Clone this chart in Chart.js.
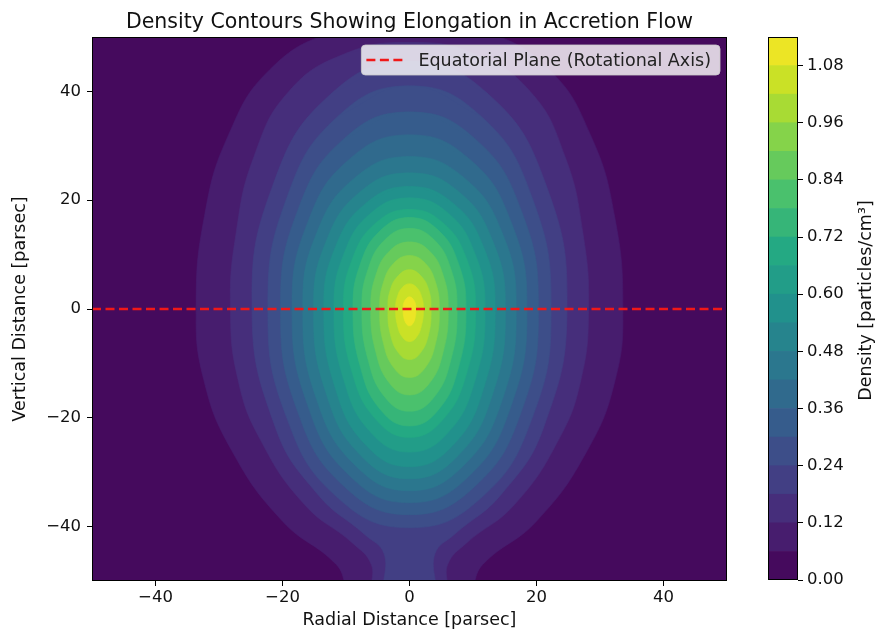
<!DOCTYPE html>
<html lang="en">
<head>
<meta charset="UTF-8">
<title>Density Contours</title>
<script src="https://cdn.jsdelivr.net/npm/chart.js"></script>
<style>
  body{margin:0;background:#fff;}
  #wrap{position:relative;width:877px;height:632px;}
  #main{position:absolute;left:0;top:0;}
  #cbar{position:absolute;left:740px;top:0;}
</style>
</head>
<body>
<div id="wrap">
  <canvas id="main" width="819" height="632"></canvas>
  <canvas id="cbar" width="137" height="632"></canvas>
</div>
<script>
// contour level edges (particles/cm^3)
const levels = [0, 0.06, 0.12, 0.18, 0.24, 0.30, 0.36, 0.42, 0.48, 0.54, 0.60,
                0.66, 0.72, 0.78, 0.84, 0.90, 0.96, 1.02, 1.08, 1.14];
const xTicks = [-40, -20, 0, 20, 40];
const yTicks = [-40, -20, 0, 20, 40];
const cbTicks = [0, 0.12, 0.24, 0.36, 0.48, 0.60, 0.72, 0.84, 0.96, 1.08];

// right half of each contour line [x, y] in parsec, from top to bottom
const c006 = [[0,53.5],[12,51],[22,44],[28.5,32],[32.3,17],[33.6,0],[32.4,-13],[28,-26],[20,-39],[11.5,-47],[8.5,-53]];
const c012 = [[0,49],[10,47],[19,40],[24.5,28],[27.3,14],[28.2,0],[27,-13],[23.5,-24],[16.5,-36],[9,-43],[6,-47],[5.5,-53]];
const c018 = [[0,45.5],[12.4,39.5],[21.5,22.8],[24.8,0],[21.2,-21.5],[14.5,-34],[7,-41.5],[4,-45],[3.5,-53]];
const c024 = [[0,41],[11.2,35.5],[19.3,20.5],[22.3,0],[19.3,-20.1],[11.2,-34.8],[0,-40.2]];
const c030 = [[0,36.2],[10.2,31.4],[17.6,18.1],[20.3,0],[17.6,-18.9],[10.2,-32.7],[0,-37.8]];
const c036 = [[0,32],[9.3,27.7],[16,16],[18.5,0],[16,-17.8],[9.3,-30.8],[0,-35.6]];
const c042 = [[0,28],[8.4,24.3],[14.6,14],[16.8,0],[14.6,-16.7],[8.4,-28.9],[0,-33.4]];
const c048 = [[0,25],[7.6,21.7],[13.1,12.5],[15.1,0],[13.1,-15.6],[7.6,-27],[0,-31.2]];
const c054 = [[0,22.5],[6.8,19.5],[11.7,11.3],[13.5,0],[11.7,-14.5],[6.8,-25.1],[0,-29]];
const c060 = [[0,20.4],[6,17.7],[10.3,10.2],[11.9,0],[10.3,-13.2],[6,-22.8],[0,-26.3]];
const c066 = [[0,18.3],[5.2,15.9],[9,9.2],[10.4,0],[9,-11.8],[5.2,-20.4],[0,-23.6]];
const c072 = [[0,16.8],[4.5,14.5],[7.7,8.4],[8.9,0],[7.7,-10.8],[4.5,-18.6],[0,-21.5]];
const c078 = [[0,14.8],[3.8,12.8],[6.5,7.4],[7.5,0],[6.5,-9.4],[3.8,-16.3],[0,-18.8]];
const c084 = [[0,12.3],[3.1,10.7],[5.3,6.2],[6.1,0],[5.3,-7.9],[3.1,-13.7],[0,-15.8]];
const c090 = [[0,9.8],[2.4,8.5],[4.1,4.9],[4.7,0],[4.1,-6.3],[2.4,-10.9],[0,-12.6]];
const c096 = [[0,7.2],[1.7,6.2],[3,3.6],[3.4,0],[3,-4.7],[1.7,-8.1],[0,-9.3]];
const c102 = [[0,4.6],[1.1,4],[1.9,2.3],[2.2,0],[1.9,-3],[1.1,-5.2],[0,-6]];
const c108 = [[0,2.2],[0.5,1.9],[0.9,1.1],[1,0],[0.9,-1.55],[0.5,-2.7],[0,-3.1]];
const contours = [c006, c012, c018, c024, c030, c036, c042, c048, c054,
                  c060, c066, c072, c078, c084, c090, c096, c102, c108];

// equatorial plane line
const eqX = [-50, 50];
const eqY = [0, 0];
const eqLabel = 'Equatorial Plane (Rotational Axis)';
const cbLabel = 'Density [particles/cm\u00b3]';

const FONT = '"DejaVu Sans", sans-serif';
Chart.defaults.font.family = FONT;
Chart.defaults.color = '#111';

const viridisStops = ['#440154','#482475','#414487','#355f8d','#2a788e','#21918c',
                      '#22a884','#44bf70','#7ad151','#bddf26','#fde725'];
function hexRgb(h){ return [1,3,5].map(i => parseInt(h.substr(i,2),16)); }
function viridis(t){
  t = Math.min(1, Math.max(0, t));
  const f = t * (viridisStops.length - 1);
  const i = Math.min(Math.floor(f), viridisStops.length - 2);
  const u = f - i;
  const a = hexRgb(viridisStops[i]), b = hexRgb(viridisStops[i+1]);
  const c = a.map((v,k) => Math.round(v + (b[k]-v)*u));
  return 'rgb(' + c.join(',') + ')';
}
const vmax = levels[levels.length-1];
function bandColor(i){ return viridis((levels[i] + levels[i+1]) / 2 / vmax); }

// mirror the right half into a closed ring; wrap two points so the spline has no seam
function loopPoints(half){
  const right = half.map(([x,y]) => ({x, y}));
  const left = half.slice(1).reverse().map(([x,y]) => ({x: -x, y}));
  if (left[0].x === 0) left.shift();
  const ring = right.concat(left);
  const n = ring.length;
  return [ring[n-1]].concat(ring, [ring[0], ring[1]]);
}
const minus = v => (v < 0 ? '\u2212' : '') + Math.abs(v);

const datasets = [{
  label: eqLabel,
  data: eqX.map((x,i) => ({x, y: eqY[i]})),
  showLine: true, fill: false,
  borderColor: '#f01818', borderWidth: 2.5, borderDash: [9, 4.5],
  pointRadius: 0, order: 0
}];
contours.forEach((half, i) => {
  const col = bandColor(i + 1);
  datasets.push({
    label: 'level ' + levels[i+1],
    data: loopPoints(half),
    showLine: true, fill: 'shape',
    backgroundColor: col, borderColor: col, borderWidth: 0.6,
    pointRadius: 0, tension: 0.45, order: 100 - i
  });
});

const plotDeco = {
  id: 'plotDeco',
  beforeDatasetsDraw(chart){
    const {ctx, chartArea: a} = chart;
    ctx.save();
    ctx.fillStyle = bandColor(0);
    ctx.fillRect(a.left, a.top, a.right - a.left, a.bottom - a.top);
    ctx.restore();
  },
  afterDatasetsDraw(chart){
    const {ctx, chartArea: a} = chart;
    ctx.save();
    ctx.strokeStyle = '#000';
    ctx.lineWidth = 1;
    ctx.strokeRect(a.left + 0.5, a.top + 0.5, a.right - a.left - 1, a.bottom - a.top - 1);
    // legend box
    const ds = chart.data.datasets[0];
    ctx.font = '17.5px ' + FONT;
    const tw = ctx.measureText(ds.label).width;
    const h = 30, w = 5 + 38 + 14 + tw + 9;
    const x = a.right - 7 - w, y = a.top + 8;
    ctx.beginPath();
    ctx.roundRect(x, y, w, h, 4);
    ctx.fillStyle = 'rgba(255,255,255,0.8)';
    ctx.fill();
    ctx.strokeStyle = 'rgba(204,204,204,0.8)';
    ctx.stroke();
    ctx.beginPath();
    ctx.setLineDash(ds.borderDash);
    ctx.strokeStyle = ds.borderColor;
    ctx.lineWidth = ds.borderWidth;
    ctx.moveTo(x + 5, y + h/2);
    ctx.lineTo(x + 43, y + h/2);
    ctx.stroke();
    ctx.setLineDash([]);
    ctx.fillStyle = '#222';
    ctx.textBaseline = 'middle';
    ctx.fillText(ds.label, x + 57, y + h/2 + 1);
    ctx.restore();
  }
};

new Chart(document.getElementById('main'), {
  type: 'scatter',
  data: { datasets },
  options: {
    responsive: false, animation: false, events: [],
    layout: { padding: { left: 0, right: 92, top: 0, bottom: 0 } },
    plugins: {
      legend: { display: false },
      tooltip: { enabled: false },
      title: {
        display: true, fullSize: false,
        text: 'Density Contours Showing Elongation in Accretion Flow',
        font: { size: 20.5, weight: 'normal' }, color: '#111',
        padding: { top: 10, bottom: 2.4 }
      }
    },
    scales: {
      x: {
        type: 'linear', min: -50, max: 50,
        afterBuildTicks: s => { s.ticks = xTicks.map(v => ({value: v})); },
        afterFit: s => { s.height = 51; },
        ticks: { callback: minus, font: { size: 16.5 }, color: '#111', padding: 2, maxRotation: 0 },
        grid: { drawOnChartArea: false, tickLength: 5, tickColor: '#000' },
        border: { display: false },
        title: { display: true, text: 'Radial Distance [parsec]', font: { size: 17.5 }, color: '#111',
                 padding: { top: 0, bottom: 1 } }
      },
      y: {
        type: 'linear', min: -50, max: 50,
        afterBuildTicks: s => { s.ticks = yTicks.map(v => ({value: v})); },
        afterFit: s => { s.width = 92; },
        ticks: { callback: minus, font: { size: 16.5 }, color: '#111', padding: 6 },
        grid: { drawOnChartArea: false, tickLength: 5, tickColor: '#000' },
        border: { display: false },
        title: { display: true, text: 'Vertical Distance [parsec]', font: { size: 17.5 }, color: '#111',
                 padding: { top: 9.5, bottom: 0 } }
      }
    }
  },
  plugins: [plotDeco]
});

// colorbar
const cbDeco = {
  id: 'cbDeco',
  afterDatasetsDraw(chart){
    const {ctx, chartArea: a} = chart;
    ctx.save();
    ctx.strokeStyle = '#000';
    ctx.lineWidth = 1;
    ctx.strokeRect(a.left + 0.5, a.top + 0.5, a.right - a.left - 1, a.bottom - a.top - 1);
    ctx.translate(126, (a.top + a.bottom) / 2 - 8);
    ctx.rotate(-Math.PI / 2);
    ctx.font = '17.5px ' + FONT;
    ctx.fillStyle = '#111';
    ctx.textAlign = 'center';
    ctx.textBaseline = 'middle';
    ctx.fillText(cbLabel, 0, 0);
    ctx.restore();
  }
};
const cbSets = levels.slice(0, -1).map((lv, i) => ({
  data: [levels[i+1] - lv],
  backgroundColor: bandColor(i),
  borderWidth: 0,
  barPercentage: 1, categoryPercentage: 1
}));
new Chart(document.getElementById('cbar'), {
  type: 'bar',
  data: { labels: [''], datasets: cbSets },
  options: {
    responsive: false, animation: false, events: [],
    layout: { padding: { left: 28, top: 37, bottom: 52, right: 0 } },
    plugins: { legend: { display: false }, tooltip: { enabled: false } },
    scales: {
      x: { display: false, stacked: true },
      y: {
        position: 'right', stacked: true, min: 0, max: vmax,
        afterBuildTicks: s => { s.ticks = cbTicks.map(v => ({value: v})); },
        afterFit: s => { s.width = 79; },
        ticks: { callback: v => v.toFixed(2), font: { size: 16.5 }, color: '#111', padding: 4 },
        grid: { drawOnChartArea: false, tickLength: 5, tickColor: '#000' },
        border: { display: false }
      }
    }
  },
  plugins: [cbDeco]
});
</script>
</body>
</html>
